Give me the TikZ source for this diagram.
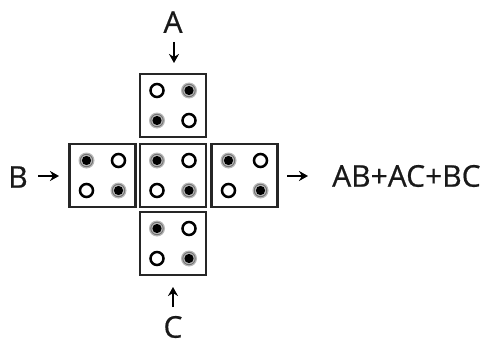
\documentclass[tikz,border=0pt]{standalone}
\usepackage{fontspec}
\setmainfont{Open Sans}
\newfontfamily\lblfont[FakeBold=0.6]{Open Sans}
\usetikzlibrary{arrows.meta,calc}
\tikzset{
  x=1pt,y=-1pt,
  cell/.style={draw=black!85,line width=2.2pt,minimum width=66pt,minimum height=63pt,inner sep=0pt},
  lbl/.style={inner sep=0pt,font=\lblfont\fontsize{30}{32}\selectfont,text=black!90},
  flow/.style={line width=2.4pt,-{Stealth[length=9pt,width=10pt]}},
  open/.style={draw=black,line width=2.5pt,fill=white},
}
\newcommand{\opendot}[1]{\draw[open] (#1) circle[radius=6.5];}
\newcommand{\fulldot}[1]{\fill[black!28] (#1) circle[radius=8];\draw[black!55,line width=0.9pt] (#1) circle[radius=6.2];\fill[black] (#1) circle[radius=4.6];}
\begin{document}
\begin{tikzpicture}
\useasboundingbox (0,0) rectangle (482,345);
\fill[white] (0,0) rectangle (482,345);
\node[cell] (T) at (173,105.5) {};
\node[cell] (L) at (102.5,175.5) {};
\node[cell] (M) at (173,175.5) {};
\node[cell] (R) at (244.5,175.5) {};
\node[cell] (D) at (173,243.5) {};
% dots
\opendot{$(T)+(-16,-15)$}\fulldot{$(T)+(16,-15)$}
\fulldot{$(T)+(-16,15)$}\opendot{$(T)+(16,15)$}
\foreach \b in {L,M,R,D}{
  \fulldot{$(\b)+(-16,-15)$}\opendot{$(\b)+(16,-15)$}
  \opendot{$(\b)+(-16,15)$}\fulldot{$(\b)+(16,15)$}
}
\node[lbl] (A) at (173,22) {A};
\node[lbl] (B) at (18,177) {B};
\node[lbl] (C) at (173,327) {C};
\node[lbl,anchor=west] (O) at (332,176) {AB+AC+BC};
\coordinate (a1) at (174,42); \coordinate (a2) at (174,63);
\coordinate (b1) at (38,176); \coordinate (b2) at (59,176);
\coordinate (c1) at (173,307); \coordinate (c2) at (173,287);
\coordinate (o1) at (287,176); \coordinate (o2) at (308,176);
\draw[flow] (a1) -- (a2);
\draw[flow] (b1) -- (b2);
\draw[flow] (c1) -- (c2);
\draw[flow] (o1) -- (o2);
\end{tikzpicture}
\end{document}
